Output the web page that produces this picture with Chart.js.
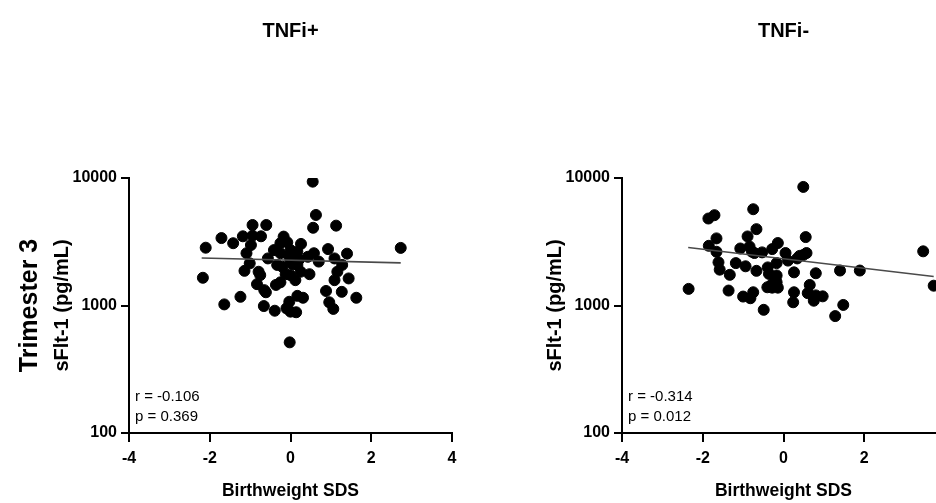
<!DOCTYPE html>
<html>
<head>
<meta charset="utf-8">
<script src="https://cdn.jsdelivr.net/npm/chart.js@4.4.1/dist/chart.umd.min.js"></script>
<style>
  html, body { margin: 0; padding: 0; background: #fff; overflow: hidden; width: 936px; height: 503px; }
  .panel { position: absolute; top: 0; width: 493px; height: 503px; }
  #panelPos { left: 0; }
  #panelNeg { left: 493px; }
</style>
</head>
<body>
<div class="panel" id="panelPos"><canvas id="graficoPos" width="493" height="503"></canvas></div>
<div class="panel" id="panelNeg"><canvas id="graficoNeg" width="493" height="503"></canvas></div>
<script>
// Birthweight SDS (x) e sFlt-1 pg/mL (y) - TNFi+
const posX = [0.55, 0.63, 0.56, 1.13, -0.94, -0.60, -1.71, -1.42, -2.10, -1.18, -0.94, -0.73, -0.98, -0.17, -0.25,
    -0.08, -0.41, 0.26, -1.09, -0.56, -0.25, 0.00, 0.08, 0.43, 0.58, 0.70, 0.93, 1.09, 1.40, 1.28, 1.16, 1.09, 1.44,
    -2.17, -1.14, -1.01, -0.79, -0.75, -0.20, 0.17, 0.25, 0.47, 0.00, 0.12, -0.25, -0.36, -0.83, -0.65, -0.61, -1.24,
    -1.64, -0.66, -0.39, -0.10, -0.03, 0.00, 0.14, 0.17, 0.31, 0.88, 0.96, 1.06, 1.27, 1.63, -0.02, 0.05, 0.00, 0.21,
    -0.04, 0.17, -0.12, -0.33, 2.73];
const posY = [9360, 5130, 4070, 4230, 4280, 4280, 3380, 3080, 2840, 3490, 3530, 3490, 2980, 3470, 3080,
    3130, 2720, 3040, 2570, 2340, 2570, 2720, 2370, 2410, 2570, 2210, 2770, 2340, 2550, 2080, 1840, 1580, 1630,
    1650, 1870, 2140, 1840, 1730, 2010, 2080, 1840, 1760, 1730, 1580, 1520, 1450, 1470, 1320, 1270, 1170,
    1020, 990, 910, 950, 1070, 895, 885, 1190, 1150, 1300, 1060, 940, 1280, 1150, 514, 2100, 2210, 2290,
    2450, 2640, 1760, 2080, 2830];

// TNFi-
const negX = [0.49, -1.86, -1.71, -0.75, -0.67, -1.66, -0.89, 0.55, -1.85, -1.66, -1.07, -0.84, -0.78, -0.53, -0.28,
    -0.14, 0.05, 0.11, 0.34, 0.49, 0.57, -1.61, -1.58, -1.18, -0.94, -0.67, -0.39, -0.17, -0.36, -0.17, 0.26, 0.80,
    1.40, 1.89, -1.33, -0.17, -0.40, -0.28, -0.14, -1.36, -2.35, -1.00, -0.82, -0.75, -0.49, 0.26, 0.24, 0.60, 0.65,
    0.75, 0.97, 0.80, 1.48, 1.28, 3.46, 3.72, -0.20, -0.72, 0.40, -0.30];
const negY = [8510, 4810, 5110, 5690, 3970, 3360, 3480, 3440, 2940, 2640, 2800, 2900, 2640, 2610, 2770,
    3090, 2580, 2250, 2340, 2490, 2580, 2180, 1910, 2150, 2030, 1870, 1990, 2150, 1770, 1720, 1820, 1790,
    1880, 1880, 1740, 1520, 1390, 1380, 1380, 1310, 1350, 1175, 1140, 1270, 925, 1270, 1060, 1250, 1450,
    1090, 1180, 1200, 1010, 826, 2660, 1430, 1600, 2580, 2450, 1450];

// retas de regressão (extremos)
const fitPosX = [-2.20, 2.73];
const fitPosY = [2360, 2160];
const fitNegX = [-2.36, 3.72];
const fitNegY = [2850, 1690];

const xTicks = [-4, -2, 0, 2, 4];
const yTicks = [100, 1000, 10000];

const arial = "'Liberation Sans', Arial, sans-serif";

// textos extras: título do painel, rótulo da linha, r e p
const textoPainel = {
    id: "textoPainel",
    afterDraw(chart, args, opts) {
        const ctx = chart.ctx;
        const area = chart.chartArea;
        ctx.save();
        ctx.fillStyle = "#000";
        ctx.textAlign = "center";
        ctx.textBaseline = "middle";
        ctx.font = "bold 20px " + arial;
        ctx.fillText(opts.titulo, (area.left + area.right) / 2, 31);

        if (opts.linha) {
            ctx.save();
            ctx.translate(30, (area.top + area.bottom) / 2);
            ctx.rotate(-Math.PI / 2);
            ctx.font = "bold 25px " + arial;
            ctx.fillText(opts.linha, 0, 0);
            ctx.restore();
        }

        ctx.textAlign = "left";
        ctx.font = "15px " + arial;
        ctx.fillText(opts.r, area.left + 6, 397);
        ctx.fillText(opts.p, area.left + 6, 417);
        ctx.restore();
    }
};

function criarGrafico(id, xs, ys, fx, fy, opts) {
    const pontos = xs.map((x, i) => ({ x: x, y: ys[i] }));
    const reta = fx.map((x, i) => ({ x: x, y: fy[i] }));
    const ctx = document.getElementById(id).getContext("2d");
    return new Chart(ctx, {
        type: "scatter",
        data: {
            datasets: [
                {
                    type: "line",
                    data: reta,
                    borderColor: "#4a4a4a",
                    borderWidth: 1.6,
                    pointRadius: 0,
                    fill: false,
                    order: 0
                },
                {
                    data: pontos,
                    backgroundColor: "#000",
                    borderColor: "#000",
                    pointRadius: 5.5,
                    pointHoverRadius: 5.5,
                    order: 1
                }
            ]
        },
        options: {
            responsive: false,
            animation: false,
            layout: { padding: { left: 0, right: 41, top: 178, bottom: 0 } },
            plugins: {
                legend: { display: false },
                tooltip: { enabled: false },
                textoPainel: opts
            },
            scales: {
                x: {
                    type: "linear",
                    min: -4,
                    max: 4,
                    afterBuildTicks: s => { s.ticks = xTicks.map(v => ({ value: v })); },
                    afterFit: s => { s.height = 70; },
                    ticks: {
                        color: "#000",
                        padding: 7,
                        font: { family: arial, size: 16, weight: "bold" },
                        callback: v => String(v)
                    },
                    grid: { drawOnChartArea: false, drawTicks: true, tickLength: 9, color: "#000", lineWidth: 2 },
                    border: { color: "#000", width: 2 },
                    title: {
                        display: true,
                        text: "Birthweight SDS",
                        color: "#000",
                        font: { family: arial, size: 17.5, weight: "bold", lineHeight: 1 },
                        padding: { top: 0, bottom: 3 }
                    }
                },
                y: {
                    type: "logarithmic",
                    min: 100,
                    max: 10000,
                    afterBuildTicks: s => { s.ticks = yTicks.map(v => ({ value: v })); },
                    afterFit: s => { s.width = 129; },
                    ticks: {
                        color: "#000",
                        padding: 4,
                        font: { family: arial, size: 16, weight: "bold" },
                        callback: v => String(v)
                    },
                    grid: { drawOnChartArea: false, drawTicks: true, tickLength: 8, color: "#000", lineWidth: 2 },
                    border: { color: "#000", width: 2 },
                    title: {
                        display: true,
                        text: "sFlt-1 (pg/mL)",
                        color: "#000",
                        font: { family: arial, size: 20, weight: "bold", lineHeight: 1 },
                        padding: { top: 52, bottom: 0 }
                    }
                }
            }
        },
        plugins: [textoPainel]
    });
}

let graficoPos = null;
let graficoNeg = null;

function renderizarGraficos() {
    graficoPos = criarGrafico("graficoPos", posX, posY, fitPosX, fitPosY,
        { titulo: "TNFi+", linha: "Trimester 3", r: "r = -0.106", p: "p = 0.369" });
    graficoNeg = criarGrafico("graficoNeg", negX, negY, fitNegX, fitNegY,
        { titulo: "TNFi-", linha: null, r: "r = -0.314", p: "p = 0.012" });
}

document.addEventListener("DOMContentLoaded", renderizarGraficos);
</script>
</body>
</html>
